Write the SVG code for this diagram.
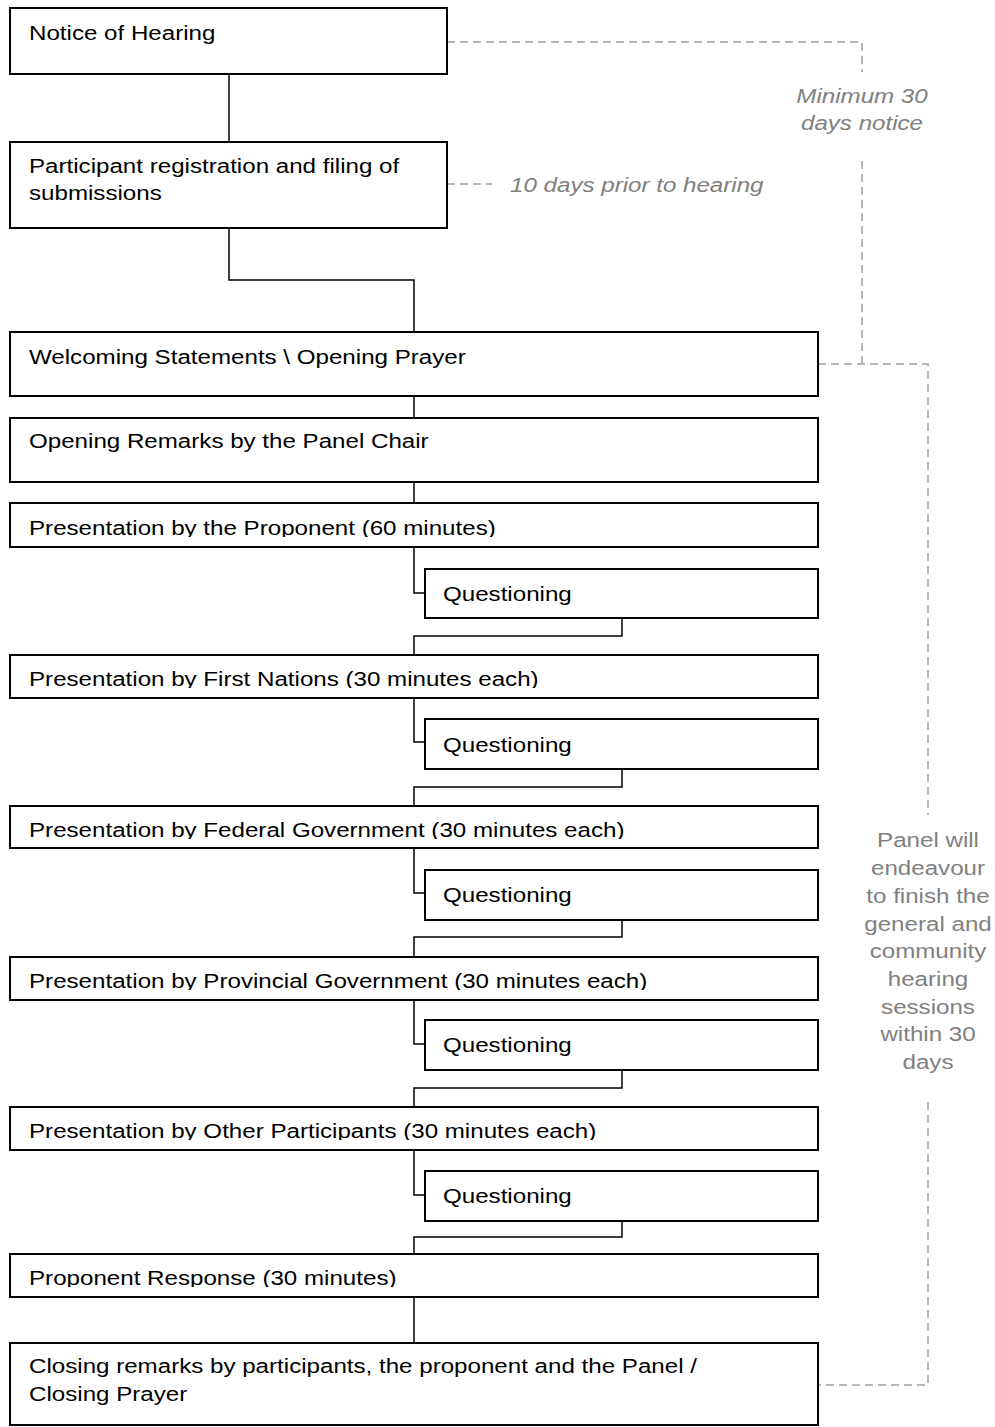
<svg xmlns="http://www.w3.org/2000/svg" width="995" height="1427" viewBox="0 0 995 1427">
<style>
.box{fill:#fff;stroke:#000;stroke-width:2}
.t{font-family:"Liberation Sans",Arial,sans-serif;font-size:21px;fill:#000}
.g{font-family:"Liberation Sans",Arial,sans-serif;font-size:21px;fill:#808080}
.gi{font-family:"Liberation Sans",Arial,sans-serif;font-size:21px;fill:#808080;font-style:italic}
.c{fill:none;stroke:#000;stroke-width:1.5}
.d{fill:none;stroke:#a0a0a0;stroke-width:1.5;stroke-dasharray:8 5}
</style>
<defs>
<clipPath id="cp5"><rect x="10" y="503" width="808" height="34"/></clipPath>
<clipPath id="cp6"><rect x="10" y="655" width="808" height="33"/></clipPath>
<clipPath id="cp7"><rect x="10" y="806" width="808" height="33"/></clipPath>
<clipPath id="cp8"><rect x="10" y="957" width="808" height="33"/></clipPath>
<clipPath id="cp9"><rect x="10" y="1107" width="808" height="33"/></clipPath>
<clipPath id="cp10"><rect x="10" y="1254" width="808" height="33"/></clipPath>
</defs>
<rect width="995" height="1427" fill="#fff"/>

<g id="connectors">
<path class="c" d="M229 74V142"/>
<path class="c" d="M229 228V280H414V332"/>
<path class="c" d="M414 396V418"/>
<path class="c" d="M414 482V503"/>
<path class="c" d="M414 547V593H425"/>
<path class="c" d="M622 618V636H414V655"/>
<path class="c" d="M414 698V742H425"/>
<path class="c" d="M622 769V787H414V806"/>
<path class="c" d="M414 848V893H425"/>
<path class="c" d="M622 920V937H414V957"/>
<path class="c" d="M414 1000V1044H425"/>
<path class="c" d="M622 1070V1088H414V1107"/>
<path class="c" d="M414 1150V1195H425"/>
<path class="c" d="M622 1221V1237H414V1254"/>
<path class="c" d="M414 1297V1343"/>
<path class="d" d="M447 42H862V72"/>
<path class="d" d="M862 161V364"/>
<path class="d" d="M818 364H928V815"/>
<path class="d" d="M928 1102V1385H818"/>
<path class="d" d="M447 184H492"/>
</g>

<g id="n1"><rect class="box" x="10" y="8" width="437" height="66"/>
<text class="t" transform="translate(29 40) scale(1.15 1)">Notice of Hearing</text></g>
<g id="n2"><rect class="box" x="10" y="142" width="437" height="86"/>
<text class="t" transform="translate(29 173) scale(1.15 1)"><tspan x="0" y="0">Participant registration and filing of</tspan><tspan x="0" y="27">submissions</tspan></text></g>
<g id="n3"><rect class="box" x="10" y="332" width="808" height="64"/>
<text class="t" transform="translate(29 364) scale(1.15 1)">Welcoming Statements \ Opening Prayer</text></g>
<g id="n4"><rect class="box" x="10" y="418" width="808" height="64"/>
<text class="t" transform="translate(29 448) scale(1.15 1)">Opening Remarks by the Panel Chair</text></g>
<g id="n5"><rect class="box" x="10" y="503" width="808" height="44"/>
<g clip-path="url(#cp5)"><text class="t" transform="translate(29 535) scale(1.15 1)">Presentation by the Proponent (60 minutes)</text></g></g>
<g id="q1"><rect class="box" x="425" y="569" width="393" height="49"/>
<text class="t" transform="translate(443 601) scale(1.15 1)">Questioning</text></g>
<g id="n6"><rect class="box" x="10" y="655" width="808" height="43"/>
<g clip-path="url(#cp6)"><text class="t" transform="translate(29 686) scale(1.15 1)">Presentation by First Nations (30 minutes each)</text></g></g>
<g id="q2"><rect class="box" x="425" y="719" width="393" height="50"/>
<text class="t" transform="translate(443 752) scale(1.15 1)">Questioning</text></g>
<g id="n7"><rect class="box" x="10" y="806" width="808" height="42"/>
<g clip-path="url(#cp7)"><text class="t" transform="translate(29 837) scale(1.15 1)">Presentation by Federal Government (30 minutes each)</text></g></g>
<g id="q3"><rect class="box" x="425" y="870" width="393" height="50"/>
<text class="t" transform="translate(443 902) scale(1.15 1)">Questioning</text></g>
<g id="n8"><rect class="box" x="10" y="957" width="808" height="43"/>
<g clip-path="url(#cp8)"><text class="t" transform="translate(29 988) scale(1.15 1)">Presentation by Provincial Government (30 minutes each)</text></g></g>
<g id="q4"><rect class="box" x="425" y="1020" width="393" height="50"/>
<text class="t" transform="translate(443 1052) scale(1.15 1)">Questioning</text></g>
<g id="n9"><rect class="box" x="10" y="1107" width="808" height="43"/>
<g clip-path="url(#cp9)"><text class="t" transform="translate(29 1138) scale(1.15 1)">Presentation by Other Participants (30 minutes each)</text></g></g>
<g id="q5"><rect class="box" x="425" y="1171" width="393" height="50"/>
<text class="t" transform="translate(443 1203) scale(1.15 1)">Questioning</text></g>
<g id="n10"><rect class="box" x="10" y="1254" width="808" height="43"/>
<g clip-path="url(#cp10)"><text class="t" transform="translate(29 1285) scale(1.15 1)">Proponent Response (30 minutes)</text></g></g>
<g id="n11"><rect class="box" x="10" y="1343" width="808" height="82"/>
<text class="t" transform="translate(29 1373) scale(1.15 1)"><tspan x="0" y="0">Closing remarks by participants, the proponent and the Panel /</tspan><tspan x="0" y="28">Closing Prayer</tspan></text></g>

<g id="label-10days"><text class="gi" transform="translate(510 192) scale(1.15 1)">10 days prior to hearing</text></g>
<g id="label-min30"><text class="gi" text-anchor="middle" transform="translate(862 103) scale(1.15 1)"><tspan x="0" y="0">Minimum 30</tspan><tspan x="0" y="27">days notice</tspan></text></g>
<g id="label-panel"><text class="g" text-anchor="middle" transform="translate(928 847) scale(1.15 1)"><tspan x="0" y="0">Panel will</tspan><tspan x="0" y="28">endeavour</tspan><tspan x="0" y="56">to finish the</tspan><tspan x="0" y="84">general and</tspan><tspan x="0" y="111">community</tspan><tspan x="0" y="139">hearing</tspan><tspan x="0" y="167">sessions</tspan><tspan x="0" y="194">within 30</tspan><tspan x="0" y="222">days</tspan></text></g>
</svg>
